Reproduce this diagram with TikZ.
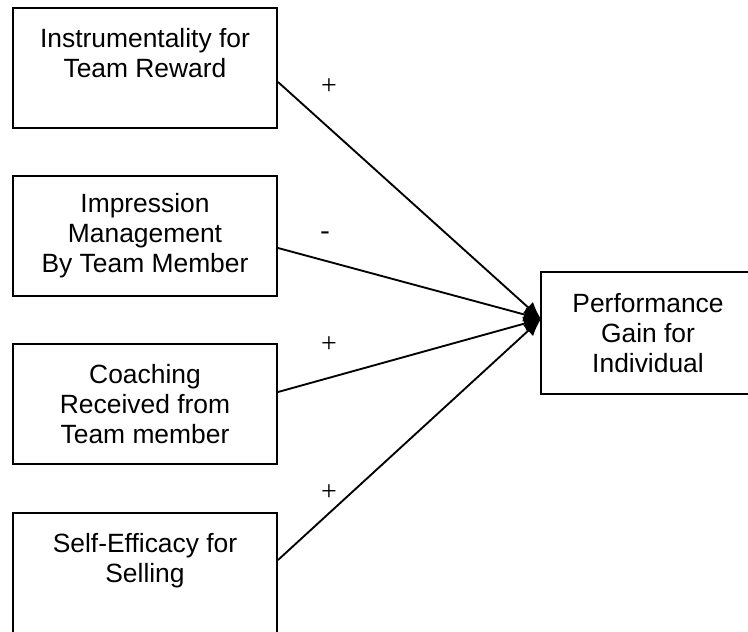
\documentclass[tikz,border=0pt]{standalone}
\usepackage{fontspec}
\setmainfont{Liberation Sans}
\newfontfamily\signfont{Liberation Serif}
\usetikzlibrary{arrows.meta,calc,positioning}

\begin{document}
\begin{tikzpicture}[x=0.75pt,y=-0.75pt,
box/.style={draw,line width=1.5pt,minimum width=198pt,minimum height=90pt,inner sep=0pt,align=center,font=\fontsize{19.8}{22.5}\selectfont},
sign/.style={inner sep=0pt,font=\signfont\fontsize{21}{22.5}\selectfont},
link/.style={line width=1.4pt,-{Latex[length=13pt,width=11pt]}}]
\useasboundingbox (0,0) rectangle (748,631);
\clip (0,0) rectangle (748,631);
\node[box] (Instr) at (145,68) {Instrumentality for\\Team Reward\\~};
\node[box] (Impr) at (145,236) {Impression\\Management\\By Team Member};
\node[box] (Coach) at (145,404) {Coaching\\Received from\\Team member};
\node[box] (Self) at (145,573) {Self-Efficacy for\\Selling\\~};
% right box runs off the page
\node[box,draw=none,anchor=west,minimum width=225pt] (Perf) at (541,333) {};
\draw[line width=1.5pt] (Perf.north east)--(Perf.north west)--(Perf.south west)--(Perf.south east);
\node[box,draw=none,minimum width=0pt,minimum height=0pt] (PerfText) at (648,333) {Performance\\Gain for\\Individual};
\coordinate (tip) at ($(Perf.west)+(0,-14)$);
\draw[link] ($(Instr.east)+(0,14)$)--(tip);
\draw[link] ($(Impr.east)+(0,12)$)--(tip);
\draw[link] ($(Coach.east)+(0,-12)$)--(tip);
\draw[link] ($(Self.east)+(0,-13)$)--(tip);
\node[sign] (s1) at (329,87) {+};
\node[sign] (s2) at (325,236) {-};
\node[sign] (s3) at (329,345) {+};
\node[sign] (s4) at (329,493) {+};
\end{tikzpicture}
\end{document}
